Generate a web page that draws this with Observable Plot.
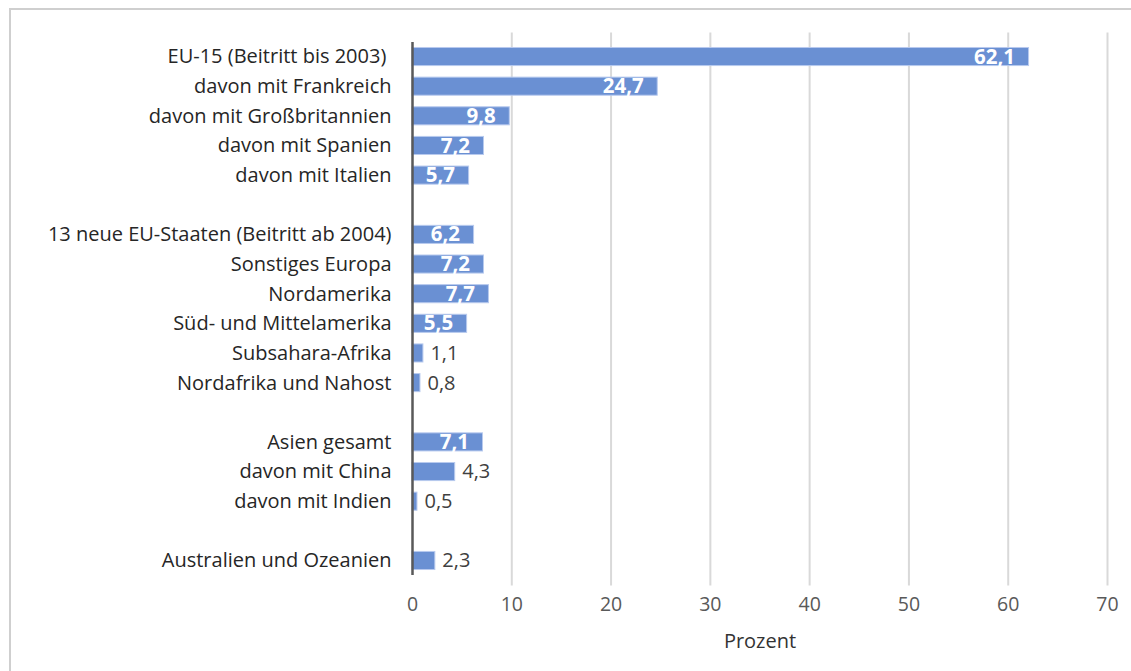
<!DOCTYPE html>
<html>
<head>
<meta charset="utf-8">
<script src="https://cdn.jsdelivr.net/npm/d3@7"></script>
<script src="https://cdn.jsdelivr.net/npm/@observablehq/plot@0.6"></script>
<style>
  html, body { margin: 0; padding: 0; background: #fff; }
  #frame { position: absolute; left: 9px; top: 8px; width: 1200px; height: 800px; border: 2px solid #cfcfcf; box-sizing: border-box; }
  #chart { position: absolute; left: 0; top: 0; }
</style>
</head>
<body>
<div id="frame"></div>
<div id="chart"></div>
<script>
const categories = [
  "EU-15 (Beitritt bis 2003)\u00a0",
  "davon mit Frankreich",
  "davon mit Großbritannien",
  "davon mit Spanien",
  "davon mit Italien",
  "",
  "13 neue EU-Staaten (Beitritt ab 2004)",
  "Sonstiges Europa",
  "Nordamerika",
  "Süd- und Mittelamerika",
  "Subsahara-Afrika",
  "Nordafrika und Nahost",
  "",
  "Asien gesamt",
  "davon mit China",
  "davon mit Indien",
  "",
  "Australien und Ozeanien"
];
const values = [62.1, 24.7, 9.8, 7.2, 5.7, null, 6.2, 7.2, 7.7, 5.5, 1.1, 0.8, null, 7.1, 4.3, 0.5, null, 2.3];
const xTicks = [0, 10, 20, 30, 40, 50, 60, 70];
const gridTicks = [10, 20, 30, 40, 50, 60, 70];
const xLabel = "Prozent";

const rows = categories.map((c, i) => ({i, label: c, value: values[i]}));
const bars = rows.filter(d => d.value != null);
const inside = bars.filter(d => d.value >= 5);
const outside = bars.filter(d => d.value < 5);
const fmt = v => v.toFixed(1).replace(".", ",");

const font = "'Open Sans', Lato, sans-serif";

const chart = Plot.plot({
  width: 1131,
  height: 671,
  marginLeft: 412,
  marginRight: 24,
  marginTop: 42,
  marginBottom: 96,
  style: {fontFamily: font, fontSize: "17px", background: "transparent"},
  x: {domain: [0, 70]},
  y: {domain: d3.range(categories.length), paddingInner: 0.39, paddingOuter: 0.185, round: false},
  marks: [
    Plot.ruleX(gridTicks, {x: d => d, y1: 0, y2: categories.length - 1, stroke: "#d9d9d9", strokeWidth: 2,
      insetTop: -15, insetBottom: -16}),
    Plot.barX(bars, {x: "value", y: "i", fill: "#6a90d3", stroke: "#b8caee", strokeWidth: 1}),
    Plot.ruleX([0], {stroke: "#595959", strokeWidth: 2.5}),
    Plot.text(inside, {x: "value", y: "i", text: d => fmt(d.value), textAnchor: "end", dx: -14, fill: "white",
      fontWeight: "bold", fontSize: 20.5}),
    Plot.text(outside, {x: "value", y: "i", text: d => fmt(d.value), textAnchor: "start", dx: 7, fill: "#404040",
      fontSize: 20}),
    Plot.axisY({tickSize: 0, tickPadding: 21, tickFormat: i => categories[i], fill: "#262626", fontSize: 20, label: null}),
    Plot.axisX(xTicks, {tickSize: 0, tickPadding: 22, tickFormat: d => d, fill: "#595959", fontSize: 19.5, label: null}),
    Plot.text([xLabel], {frameAnchor: "bottom", dy: 72, fill: "#333", fontSize: 20})
  ]
});
document.getElementById("chart").appendChild(chart);
</script>
</body>
</html>
